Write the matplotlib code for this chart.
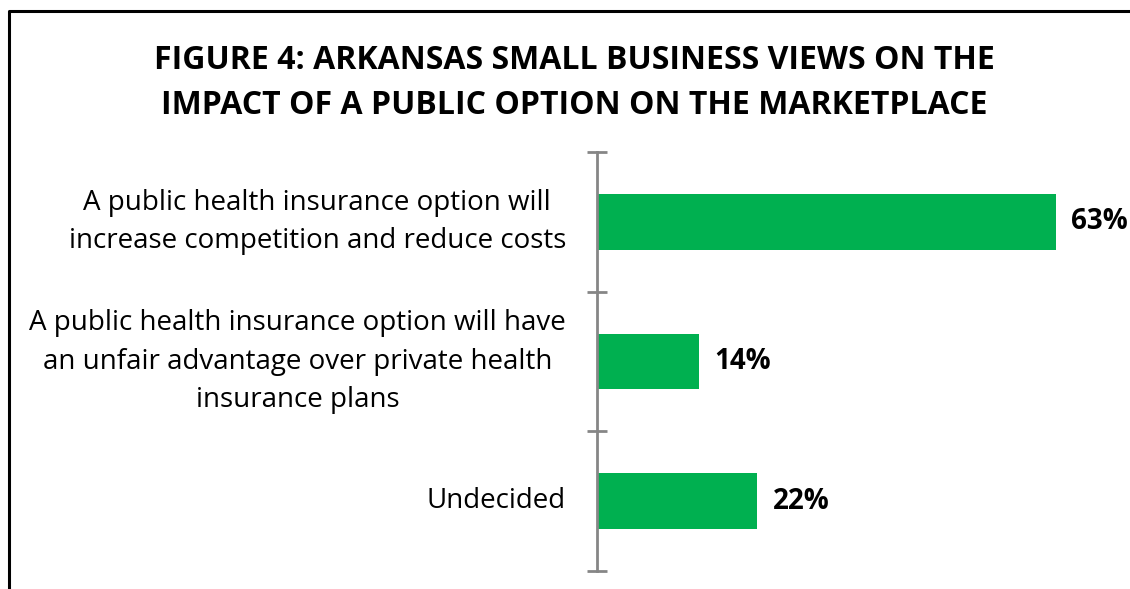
import matplotlib.pyplot as plt
from matplotlib.lines import Line2D

# survey responses, top to bottom
labels = ['A public health insurance option will\nincrease competition and reduce costs',
          'A public health insurance option will have\nan unfair advantage over private health\ninsurance plans',
          'Undecided']
values = [63, 14, 22]
title = 'FIGURE 4: ARKANSAS SMALL BUSINESS VIEWS ON THE\nIMPACT OF A PUBLIC OPTION ON THE MARKETPLACE'

plt.rcParams['font.family'] = ['Open Sans', 'DejaVu Sans']

W, H = 1130, 589
fig = plt.figure(figsize=(W / 100, H / 100), dpi=100)

# plot area: value axis starts at x=597px, categories span 152..571px
ax = fig.add_axes([597 / W, 1 - 571 / H, (W - 597) / W, (571 - 152) / H])
ax.set_xlim(0, (W - 597) / 7.286)
ax.set_ylim(len(values) - 0.5, -0.5)

ypos = range(len(values))
ax.barh(ypos, values, height=0.4, color='#00b050')

for y, v in zip(ypos, values):
    ax.text(v + 2.1, y, f'{v}%', va='center', ha='left', fontsize=20, fontweight='bold')

for y, lab in zip(ypos, labels):
    ax.text(-31 / 7.286, y, lab, va='center', ha='right', multialignment='center',
            fontsize=20, linespacing=1.48)

for s in ['top', 'right', 'bottom']:
    ax.spines[s].set_visible(False)
ax.spines['left'].set_color('#868686')
ax.spines['left'].set_linewidth(2)
ax.set_xticks([])
ax.set_yticks([-0.5, 0.5, 1.5, 2.5])
ax.set_yticklabels([])
ax.tick_params(axis='y', direction='inout', length=14.4, width=2, color='#868686')

fig.text(574 / W, 1 - 83 / H, title, ha='center', va='center', fontsize=23,
         fontweight='bold', linespacing=1.45)

# frame around the figure (left and top edges only)
fig.add_artist(Line2D([9 / W, 9 / W, 1], [0, 1 - 11 / H, 1 - 11 / H],
                      transform=fig.transFigure, color='black', lw=2.2))

fig.savefig('out.png', dpi=100)
